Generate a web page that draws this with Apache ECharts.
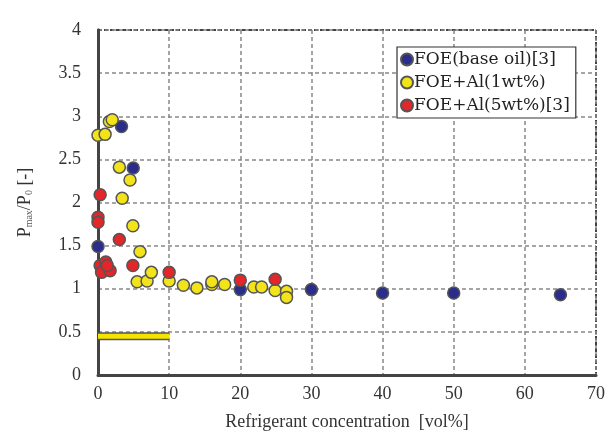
<!DOCTYPE html>
<html>
<head>
<meta charset="utf-8">
<script src="https://cdn.jsdelivr.net/npm/echarts@6/dist/echarts.min.js"></script>
<style>
  html, body { margin: 0; padding: 0; background: #fff; }
  #chart { width: 608px; height: 442px; }
</style>
</head>
<body>
<div id="chart"></div>
<script>
// Pmax/P0 versus refrigerant concentration [vol%], each point is [x, y]
const baseOil = [
  [0.0, 1.49], [3.3, 2.88], [4.95, 2.40], [20.0, 0.99],
  [30.0, 0.99], [40.0, 0.95], [50.0, 0.95], [65.0, 0.93]
];
const al1wt = [
  [1.6, 2.94], [2.0, 2.96], [0.0, 2.78], [1.0, 2.79], [3.0, 2.41],
  [4.5, 2.26], [3.4, 2.05], [4.9, 1.73], [5.9, 1.43], [5.5, 1.08],
  [6.9, 1.09], [7.5, 1.19], [10.0, 1.09], [12.0, 1.04], [13.9, 1.01],
  [16.0, 1.05], [16.0, 1.08], [17.8, 1.05], [21.9, 1.02], [23.0, 1.02],
  [24.9, 0.98], [26.5, 0.97], [26.5, 0.90]
];
const al5wt = [
  [0.3, 2.09], [0.0, 1.83], [0.0, 1.77], [3.0, 1.57], [0.3, 1.27],
  [1.1, 1.31], [0.5, 1.19], [1.7, 1.21], [1.3, 1.27], [4.9, 1.27],
  [10.0, 1.19], [20.0, 1.10], [24.9, 1.11]
];
// horizontal yellow bar near the bottom
const barSegment = [[0, 0.45], [10, 0.45]];

const seriesNames = ['FOE(base oil)[3]', 'FOE+Al(1wt%)', 'FOE+Al(5wt%)[3]'];
const xTicks = { min: 0, max: 70, step: 10 };
const yTicks = { min: 0, max: 4, step: 0.5 };

const serif = '"Liberation Serif", "DejaVu Serif", serif';
const wideSerif = '"DejaVu Serif", serif';
const edge = '#444';

const scatter = (name, data, color) => ({
  name, type: 'scatter', data, symbol: 'circle', symbolSize: 12,
  itemStyle: { color, borderColor: '#555', borderWidth: 1.5, opacity: 1 },
  z: 5
});

const chart = echarts.init(document.getElementById('chart'), null, { renderer: 'canvas' });
chart.setOption({
  animation: false,
  backgroundColor: '#fff',
  grid: { left: 98, right: 11, top: 30, bottom: 67, show: true,
          borderColor: edge, borderWidth: 2, borderType: [4, 2] },
  legend: {
    data: seriesNames, orient: 'vertical', left: 397, top: 47,
    backgroundColor: '#fff', borderColor: '#333', borderWidth: 1.2,
    padding: [4, 6, 4, 3], itemGap: 6, itemWidth: 12, itemHeight: 12,
    icon: 'circle',
    textStyle: { fontFamily: wideSerif, fontSize: 17, color: '#222', padding: [0, 0, 0, -4] }
  },
  xAxis: [{
    type: 'value', min: xTicks.min, max: xTicks.max, interval: xTicks.step,
    name: 'Refrigerant concentration  [vol%]', nameLocation: 'middle', nameGap: 38,
    nameTextStyle: { fontFamily: serif, fontSize: 18, color: '#333' },
    axisLine: { show: true, onZero: false, lineStyle: { color: edge, width: 3 } },
    axisTick: { show: false },
    axisLabel: { fontFamily: serif, fontSize: 18, color: '#333', margin: 10 },
    splitLine: { show: true, lineStyle: { color: '#888', width: 1.5, type: [4, 3] } }
  }],
  yAxis: [{
    type: 'value', min: yTicks.min, max: yTicks.max, interval: yTicks.step,
    name: '{p|P}{s|max}{p|/P}{s|0}{p| [-]}', nameLocation: 'middle', nameGap: 64,
    nameRotate: 90,
    nameTextStyle: {
      rich: {
        p: { fontFamily: serif, fontSize: 18, color: '#333' },
        s: { fontFamily: serif, fontSize: 10, color: '#555', verticalAlign: 'bottom', padding: [8, 0, 0, 0] }
      }
    },
    axisLine: { show: true, onZero: false, lineStyle: { color: edge, width: 3 } },
    axisTick: { show: false },
    axisLabel: { fontFamily: serif, fontSize: 18, color: '#333', margin: 17 },
    splitLine: { show: true, lineStyle: { color: '#888', width: 1.5, type: [4, 3] } }
  }, {
    type: 'value', position: 'right', min: yTicks.min, max: yTicks.max, interval: yTicks.step,
    axisLine: { show: true, lineStyle: { color: edge, width: 3 } },
    axisTick: { show: false }, axisLabel: { show: false }, splitLine: { show: false }
  }],
  series: [
    { type: 'line', data: barSegment, symbol: 'none', silent: true, z: 3,
      lineStyle: { color: '#555', width: 8, cap: 'butt' } },
    { type: 'line', data: barSegment, symbol: 'none', silent: true, z: 4,
      lineStyle: { color: '#f5e400', width: 5, cap: 'butt' } },
    scatter(seriesNames[0], baseOil, '#2a2d8c'),
    scatter(seriesNames[1], al1wt, '#f3e41a'),
    scatter(seriesNames[2], al5wt, '#e2262a')
  ]
});
</script>
</body>
</html>
